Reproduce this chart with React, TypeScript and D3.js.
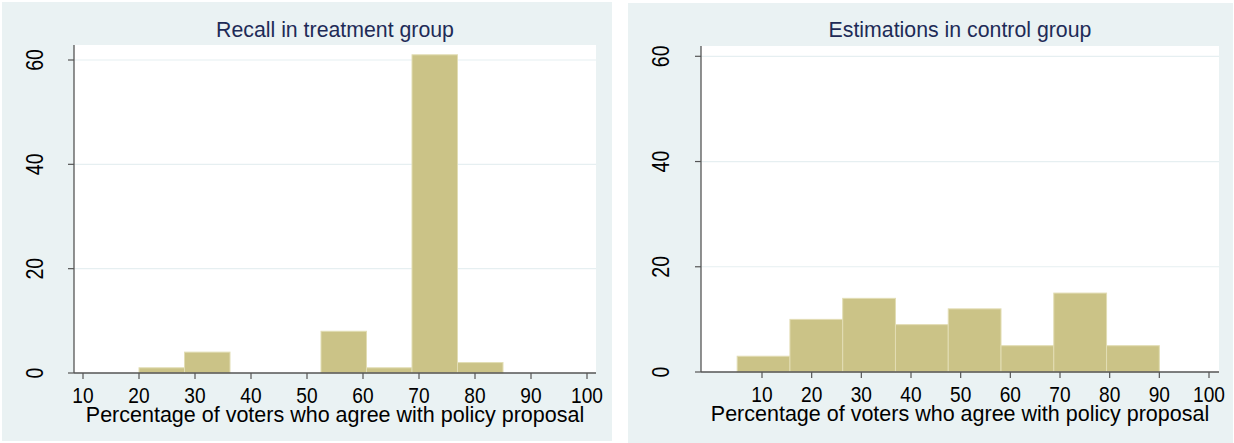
import React from "react";
import * as d3 from "d3";

// ---- Data ----
const leftTitle = "Recall in treatment group";
const leftEdges = [20, 28.125, 36.25, 44.375, 52.5, 60.625, 68.75, 76.875, 85];
const leftCounts = [1, 4, 0, 0, 8, 1, 61, 2];

const rightTitle = "Estimations in control group";
const rightEdges = [5, 15.625, 26.25, 36.875, 47.5, 58.125, 68.75, 79.375, 90];
const rightCounts = [3, 10, 14, 9, 12, 5, 15, 5];

const xTicks = [10, 20, 30, 40, 50, 60, 70, 80, 90, 100];
const yTicks = [0, 20, 40, 60];
const xAxisTitle = "Percentage of voters who agree with policy proposal";

// ---- Styles ----
const BG = "#eaf2f3";
const BAR = "#cbc387";
const BAR_EDGE = "#e2ddb4";
const AXIS = "#555555";
const GRID = "#e6eff1";
const TITLE = "#1e2b57";
const FONT = "'Liberation Sans', Arial, Helvetica, sans-serif";

type PanelProps = {
  title: string;
  edges: number[];
  counts: number[];
  bg: [number, number, number, number];
  plot: [number, number, number, number]; // x0, y0, x1, y1
  xRange: [number, number]; // pixel positions of 10 and 100
  yRange: [number, number]; // pixel positions of 0 and 60
  yLabelX: number;
};

function Panel(p: PanelProps) {
  const [px0, py0, px1, py1] = p.plot;
  const x = d3.scaleLinear().domain([10, 100]).range(p.xRange);
  const y = d3.scaleLinear().domain([0, 60]).range(p.yRange);
  const cx = (px0 + px1) / 2;
  const bins = p.counts.map((c, i) => ({ x0: p.edges[i], x1: p.edges[i + 1], c }));
  return (
    <g>
      <rect x={p.bg[0]} y={p.bg[1]} width={p.bg[2] - p.bg[0]} height={p.bg[3] - p.bg[1]} fill={BG} />
      <rect x={px0} y={py0} width={px1 - px0} height={py1 - py0} fill="#ffffff" />
      {yTicks.filter((t) => t > 0).map((t) => (
        <line key={"g" + t} x1={px0} x2={px1} y1={y(t)} y2={y(t)} stroke={GRID} strokeWidth={1.2} />
      ))}
      {bins.filter((b) => b.c > 0).map((b, i) => (
        <rect
          key={"b" + i}
          x={x(b.x0)}
          y={y(b.c)}
          width={x(b.x1) - x(b.x0)}
          height={y(0) - y(b.c)}
          fill={BAR}
          stroke={BAR_EDGE}
          strokeWidth={1}
        />
      ))}
      {/* axes */}
      <line x1={px0} x2={px0} y1={py0} y2={py1} stroke={AXIS} strokeWidth={1.3} />
      <line x1={px0} x2={px1} y1={py1} y2={py1} stroke={AXIS} strokeWidth={1.3} />
      {yTicks.map((t) => (
        <g key={"yt" + t}>
          <line x1={px0 - 6} x2={px0} y1={y(t)} y2={y(t)} stroke={AXIS} strokeWidth={1.2} />
          <text
            transform={`translate(${p.yLabelX},${y(t)}) rotate(-90) scale(0.85,1)`}
            textAnchor="middle"
            fontSize={23}
            fontFamily={FONT}
            fill="#000"
          >
            {t}
          </text>
        </g>
      ))}
      {xTicks.map((t) => (
        <g key={"xt" + t}>
          <line x1={x(t)} x2={x(t)} y1={py1} y2={py1 + 6} stroke={AXIS} strokeWidth={1.2} />
          <text
            transform={`translate(${x(t)},${py1 + 30}) scale(0.85,1)`}
            textAnchor="middle"
            fontSize={22.5}
            fontFamily={FONT}
            fill="#000"
          >
            {t}
          </text>
        </g>
      ))}
      <text x={cx} y={py1 + 49} textAnchor="middle" fontSize={21.5} fontFamily={FONT} fill="#000">
        {xAxisTitle}
      </text>
      <text x={cx} y={37} textAnchor="middle" fontSize={21.3} fontFamily={FONT} fill={TITLE}>
        {p.title}
      </text>
    </g>
  );
}

export default function App() {
  return (
    <svg
      width={1234}
      height={443}
      style={{ position: "absolute", left: 0, top: 0, background: "#fff" }}
    >
      <Panel
        title={leftTitle}
        edges={leftEdges}
        counts={leftCounts}
        bg={[2, 2, 612, 441]}
        plot={[74, 45, 596, 373]}
        xRange={[83, 587]}
        yRange={[373, 60]}
        yLabelX={43}
      />
      <Panel
        title={rightTitle}
        edges={rightEdges}
        counts={rightCounts}
        bg={[628, 3, 1233, 443]}
        plot={[701, 46, 1219, 372]}
        xRange={[762, 1209]}
        yRange={[372, 56.3]}
        yLabelX={669}
      />
    </svg>
  );
}
